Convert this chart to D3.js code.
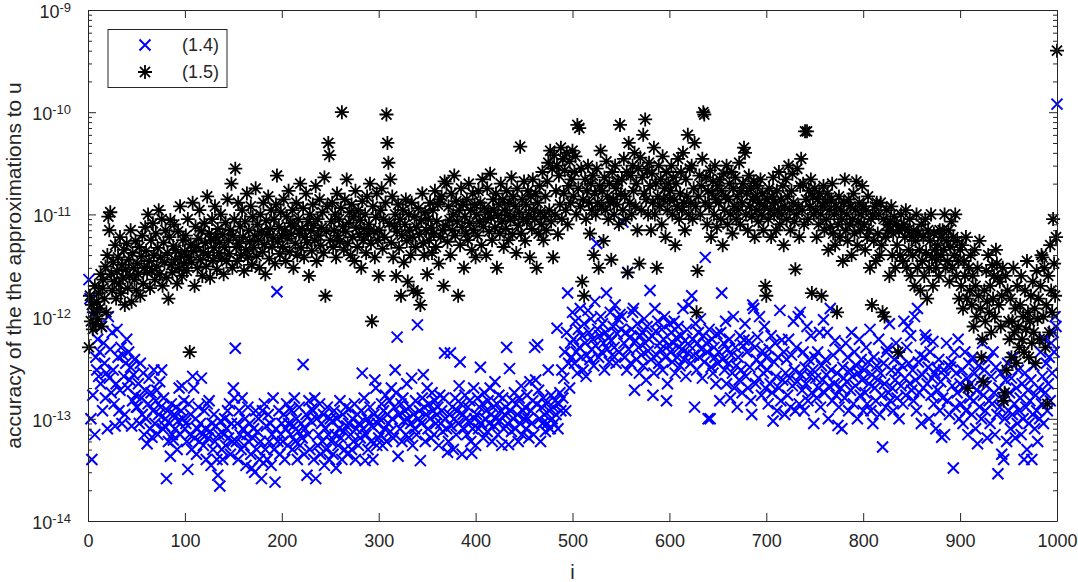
<!DOCTYPE html>
<html><head><meta charset="utf-8">
<script src="https://cdn.jsdelivr.net/npm/d3@7"></script>
<style>body{margin:0;background:#fff} svg{display:block} text{font-family:"Liberation Sans",Arial,Helvetica,sans-serif;fill:#262626}</style>
</head><body><svg id="chart" width="1078" height="582"></svg>
<script>
// values are given in units of 1e-14, one entry per i = 1..1000
const UNIT = 1e-14;
const seriesNames = ["(1.4)", "(1.5)"];
const acc14 = [
230,150,10,4,17,100,7,40,30,60,
26,45,22,80,12,55,35,16,28,8,
100,25,48,18,70,30,14,8.5,22,75,
40,12,19,50,9,42,26,11,35,60,
20,45,24,32,8.5,15,27,38,17,13,
13,22,9,35,16,11,28,7,19,10,
5.7,14,25,8,18,6.6,12,30,9,15,
19,7,11,23,13,30,8,16,8.5,10,
2.6,12,6,9,4.3,14,7,6.2,11,8,
13,5,9.5,20,7,12,21,10,15,8,
9,6,3.2,14,7,11,5,26,20,6.5,
10,4.5,8,13,6,9,25,7,5.5,12,
8,4,14,6.5,15,7.5,3.5,9,5,11,
6,8.5,4,2.8,7,2.2,9.5,5,4,7,
10,5.5,8,12,6.5,14,4.5,9,6,20,
16,49,6,9,4,12,7,5,16,8,
5.5,10,3.5,7,13,6,9,4.5,3.3,6.5,
8,3,12,5,7.5,10,4,6,2.6,12,
3.7,14,5,8.5,4,11,6,9,3.5,7,
16,5,2.4,8,175,6,12,4.5,7,9,
6,11,4,8,14,5.5,9,12.5,7,12,
5,8.5,16,6,10,4,7.5,13,5.5,9,
6.5,34,4.5,8,11,2.8,7,15,5,9.5,
12.5,12,4,16,2.6,10,5.5,7,14,4.5,
9,6,11,3.5,8,5,13,7,4,10,
6,9.5,4.5,12,7,3.3,10,5.5,8,15,
6.5,4,11,7.5,5,13,8.5,4.5,9,12.5,
7,5,10,6,14,4,8,11,5.5,9,
6.5,12,28,8,16,3.9,7,10,5,9,
13,6,8.5,4,11,24,20,5.5,9,6.5,
10,7,14,5.5,12,8,17,6,11,9,
15,7.5,20,10,6.5,13,30,18,63,4.3,
11,8,14,6,16,9.5,12,7,22,10,
6.5,13,9,25,5.5,11,8,15,7,83,
10,12,3.9,9,16,27,13,6,11,20,
8,14,10,6.5,18,12,7,15,9,11,
13,5.5,17,9,12,7.5,16,44,10,8,
4.7,6,11,44,8.5,13,5,10,16,7,
12,9,21,36,14,4.5,11,8,17,10,
7,13,9.5,15,6,4.6,8,20,10,5.5,
11,16,8,13,32,9,14,6.5,18,10,
12,7.5,15,9,20,11,6,13,8.5,23,
10,14,7,17,9.5,12,5.5,16,8,11,
13,50,9,5.6,31,12,7.5,15,10,18,
8,14,11,6,16,9,21,7,12,10,
13,8,17,10,6.5,23,12,9,15,7,
50,24,14,53,19,10,6,13,9,16,
11,7.5,14,9,30,12,8,17,10,13,
9,15,11,77,8,14,18,12,30,16,
25,45,12,70,170,35,20,55,40,110,
60,35,90,45,28,75,50,120,40,65,
30,85,55,26,42,115,70,38,95,48,
60,33,140,52,520,75,40,65,100,45,
85,55,30,70,170,48,62,36,110,58,
42,80,50,130,35,68,95,45,105,75,
100,840,55,40,70,30,270,48,62,35,
75,110,120,19,58,38,85,50,28,65,
42,70,33,95,55,24,80,46,60,180,
38,65,17,28,120,72,42,90,35,55,
48,75,30,60,100,40,15,22,52,85,
45,70,36,55,90,28,62,40,80,50,
33,65,48,120,38,58,26,75,44,130,
52,35,160,60,42,13,85,30,55,70,
40,95,48,25,65,36,380,55,45,10,
75,10,32,60,28,50,40,22,68,35,
45,15,70,170,38,55,30,90,22,48,
35,60,16,42,28,100,20,50,33,13,
40,24,65,30,18,52,59,85,26,45,
20,58,32,15,11,130,120,50,22,38,
63,25,100,34,17,46,28,80,20,40,
30,14,48,22,65,18,9.5,36,55,26,
12,40,20,115,15,59,24,45,11,28,
38,17,60,25,13,42,21,90,30,12,
50,23,100,14,110,27,19,45,12,32,
22,80,15,38,26,65,18,30,9,40,
25,16,45,20,70,13,33,24,93,18,
38,27,70,10,21,120,30,15,42,22,
58,17,28,8.6,13,48,20,8,32,25,
16,55,23,40,12,30,19,70,26,14,
45,21,33,10,28,60,17,38,24,12,
30,18,50,14,36,22,75,12,27,9,
40,20,15,33,24,60,11,28,17,5.3,
35,22,13,45,49,18,85,15,30,20,
12,38,24,55,16,29,10,42,21,33,
14,90,25,17,50,80,35,22,65,19,
30,15,100,24,12,120,36,18,42,9,
27,20,40,66,60,22,32,10,45,17,
25,57,14,28,8,31,19,38,12,23,
6.6,16,30,7,26,55,15,33,11,32,
36,21,3.3,45,13,28,18,60,10,22,
14,30,9,20,45,12,25,7,35,16,
22,11,40,15,28,8,19,5.7,33,13,
24,10,55,17,30,12,21,6.5,38,15,
9,26,14,45,18,7,32,11,2.9,20,
13,28,4.5,16,4,10,24,6,35,12,
18,8,25,11,40,14,6.5,20,9,30,
12,16,7,22,10,4,28,13,5,19,
9,15,24,4,11,33,8,17,12,6,
20,10,45,14,26,9,60,18,35,12,
22,40,15,55,28,70,45,100,80,12000
];
const acc15 = [
50,160,90,130,75,110,200,85,140,95,
170,120,260,80,190,230,150,310,110,400,
950,700,1050,260,180,340,220,500,150,280,
380,210,600,170,320,240,450,130,290,520,
190,360,250,700,140,420,300,230,550,180,
330,260,480,160,390,620,210,300,750,440,
270,1000,350,190,560,280,820,400,230,650,
310,470,1100,260,380,900,200,530,340,700,
240,420,150,600,880,320,270,490,800,360,
450,210,680,300,1200,390,250,560,330,430,
620,280,900,380,45,510,340,1300,440,200,
760,480,300,580,1100,360,690,250,430,820,
520,310,1500,400,650,240,560,900,350,470,
1200,600,290,720,420,530,1000,370,640,260,
480,830,350,1400,560,410,700,2000,300,620,
900,2800,480,350,1300,520,760,400,1100,600,
280,850,450,1600,380,700,540,1200,320,950,
470,620,1800,390,800,560,300,1000,680,430,
1300,510,260,870,640,1500,370,720,1100,480,
590,900,330,1250,2400,540,760,410,1050,620,
480,1400,700,350,950,580,1700,430,820,640,
1100,300,760,520,1300,400,900,650,2000,470,
720,1150,380,600,1600,530,850,250,1000,690,
440,1250,780,560,1900,350,900,620,1400,500,
740,1050,420,2300,160,680,1200,5000,3800,560,
850,1300,480,700,1000,380,1600,620,900,540,
1150,10000,760,450,1400,680,2200,520,830,1050,
400,1250,600,950,350,1700,740,480,1100,640,
880,300,1350,560,720,1000,420,1500,650,800,
2000,520,90,1200,680,380,940,1600,560,250,
700,1100,1800,460,900,600,1300,9500,5000,3200,
820,2200,530,1500,380,760,1000,250,680,1250,
470,900,160,620,1100,340,800,1400,550,220,
1000,700,400,1300,600,180,950,480,750,170,
1150,640,130,880,1600,520,400,1050,700,260,
900,560,1300,740,420,1100,650,1700,480,860,
1250,330,1400,600,1500,700,200,2100,780,2000,
540,1200,880,400,1600,700,1000,2400,620,1350,
850,160,1100,500,1800,750,1250,300,950,650,
1400,560,2000,820,1100,450,1600,700,1250,380,
1000,620,1700,850,1300,500,2200,760,1150,900,
400,1800,1050,680,2500,920,560,1400,1100,750,
1600,300,980,1250,650,2000,850,1400,480,1100,
720,1700,1000,560,1300,880,2300,640,1500,950,
1200,420,1800,780,1050,4600,650,1400,900,2100,
550,1250,850,1700,1000,380,1500,720,2200,1100,
900,1600,300,1300,650,1900,1050,800,2600,560,
950,1500,700,2100,3200,1100,4200,850,2800,380,
3800,1000,1700,3000,640,2400,1250,4500,900,3500,
1600,2700,1100,4000,800,1900,3300,1300,2200,4200,
1500,2600,3700,1000,7500,1800,7000,1200,2800,220,
1400,160,2200,900,1700,3000,1300,650,2000,1100,
2400,400,1600,1000,2800,1300,300,1900,4200,1200,
1700,550,2300,1100,3300,1500,900,2000,1300,360,
2600,1400,1000,3000,1800,1250,2100,800,7500,1600,
2200,1100,3500,1500,900,2600,270,5000,1300,2400,
1000,3000,1700,4000,1200,2000,700,2800,330,3600,
1100,2300,6000,1600,8500,1400,2700,1000,3200,1900,
700,2500,1300,4500,1000,2000,300,1500,3000,1200,
2200,800,3700,1400,1800,600,2600,1100,2000,1400,
1700,3000,1000,2300,1400,500,2000,1200,3500,900,
1600,2600,1100,4000,1300,700,2200,1500,6000,1000,
2800,1300,3000,900,1800,5000,1200,110,280,1500,
2400,1000,1900,3500,10000,9500,1300,2300,800,1700,
1200,2700,600,1600,2100,1000,3000,1400,750,1900,
1300,2200,900,1700,500,2500,1100,1500,3000,800,
1400,2000,1000,2600,650,1800,1200,2300,900,1500,
1100,3200,800,1700,1300,2000,4500,4000,1000,1600,
700,2400,1200,1800,950,1400,2100,600,1500,1100,
1900,850,1300,2200,1000,1600,700,1200,200,160,
1400,900,1800,1100,600,1500,2300,1000,1300,700,
1700,1100,2600,800,1400,1000,1900,500,1200,2200,
900,1500,3000,1100,700,1700,2500,1300,850,290,
1000,2800,1200,600,1900,3500,1100,2000,800,6500,
1400,6500,900,1700,1200,2200,170,1500,1000,1800,
1100,600,1400,800,1600,1000,160,1200,1900,700,
1300,900,1600,450,1100,750,1400,2000,650,1000,
500,1200,110,800,1500,600,1100,900,350,1300,
2200,700,1000,550,1400,800,1200,400,900,1600,
650,1100,2100,500,850,1300,700,1000,1900,1200,
800,450,1100,600,1500,700,300,900,130,1000,
550,1200,350,1300,650,1000,400,1300,500,110,
900,100,600,1100,800,700,250,850,1200,400,
650,950,300,800,500,45,700,400,1000,750,
350,800,600,1100,300,700,450,900,250,600,
400,700,200,550,1000,300,650,450,180,800,
350,600,250,900,420,150,700,300,550,1000,
380,200,650,450,300,360,500,250,700,400,
600,700,450,1000,300,550,350,700,220,480,
850,300,600,400,1000,250,550,350,150,450,
200,500,120,350,250,600,150,20,300,180,
400,130,250,80,450,200,100,300,160,550,
120,40,60,23,180,90,280,140,400,110,
200,70,320,150,250,100,450,330,240,130,
220,80,160,300,15,18,250,30,180,90,
60,150,40,90,300,70,120,35,200,80,
50,130,250,60,100,45,180,75,350,110,
40,90,160,55,220,70,120,35,280,95,
150,60,200,400,380,100,300,50,130,14,
250,70,500,180,110,900,330,160,600,40000
];
const xTicks = [0,100,200,300,400,500,600,700,800,900,1000];
const yTickExp = [-14,-13,-12,-11,-10,-9];
const xLabel = "i";
const yLabel = "accuracy of the the approximations to u";

const W = 1078, H = 582, m = {l:88, t:10, r:21, b:61};
const AX = "#262626";
const FONT = '"Liberation Sans",Arial,Helvetica,sans-serif';
const svg = d3.select("#chart");
const x = d3.scaleLinear().domain([0,1000]).range([m.l, W-m.r]);
const y = d3.scaleLog().domain([1e-14,1e-9]).range([H-m.b, m.t]);

const majorY = yTickExp.map(e => Math.pow(10, e));
const minorY = [];
yTickExp.slice(0,-1).forEach(e => { for (let k=2;k<=9;k++) minorY.push(k*Math.pow(10,e)); });

svg.append("rect").attr("x",m.l).attr("y",m.t).attr("width",W-m.l-m.r).attr("height",H-m.t-m.b).attr("fill","#fff");

// data marks
const pts14 = acc14.map((v,k)=>({i:k+1, v:v*UNIT}));
const pts15 = acc15.map((v,k)=>({i:k+1, v:v*UNIT}));
const s = 5.5, r = 7, d = r*0.72;
const crossPath = `M${-s},${-s}L${s},${s}M${-s},${s}L${s},${-s}`;
const starPath = `M${-r},0L${r},0M0,${-r}L0,${r}M${-d},${-d}L${d},${d}M${-d},${d}L${d},${-d}`;
const plot = svg.append("g");
plot.selectAll("path.c14").data(pts14).join("path").attr("class","c14")
  .attr("d",crossPath).attr("transform",p=>`translate(${x(p.i)},${y(p.v)})`)
  .attr("fill","none").attr("stroke","#0000ff").attr("stroke-width",2);
plot.selectAll("path.c15").data(pts15).join("path").attr("class","c15")
  .attr("d",starPath).attr("transform",p=>`translate(${x(p.i)},${y(p.v)})`)
  .attr("fill","none").attr("stroke","#000").attr("stroke-width",1.8);

// axes
function styleAxis(g){ g.selectAll("path.domain").attr("stroke",AX); g.selectAll(".tick line").attr("stroke",AX); }
svg.append("g").attr("transform",`translate(0,${H-m.b})`)
  .call(d3.axisBottom(x).tickValues(xTicks).tickSize(-8).tickPadding(13).tickSizeOuter(0).tickFormat(d3.format("d")))
  .call(styleAxis)
  .call(g=>g.selectAll("text").attr("font-size",18).attr("fill",AX).style("font-family",FONT));
svg.append("g").attr("transform",`translate(0,${m.t})`)
  .call(d3.axisTop(x).tickValues(xTicks).tickSize(-8).tickSizeOuter(0).tickFormat(""))
  .call(styleAxis);
const yl = svg.append("g").attr("transform",`translate(${m.l},0)`)
  .call(d3.axisLeft(y).tickValues(majorY).tickSize(-8).tickSizeOuter(0).tickFormat(""))
  .call(styleAxis);
svg.append("g").attr("transform",`translate(${m.l},0)`)
  .call(d3.axisLeft(y).tickValues(minorY).tickSize(-4).tickSizeOuter(0).tickFormat(""))
  .call(styleAxis).call(g=>g.select("path.domain").remove());
svg.append("g").attr("transform",`translate(${W-m.r},0)`)
  .call(d3.axisRight(y).tickValues(majorY).tickSize(-8).tickSizeOuter(0).tickFormat(""))
  .call(styleAxis);
svg.append("g").attr("transform",`translate(${W-m.r},0)`)
  .call(d3.axisRight(y).tickValues(minorY).tickSize(-4).tickSizeOuter(0).tickFormat(""))
  .call(styleAxis).call(g=>g.select("path.domain").remove());

// y tick labels 10^e
yl.selectAll(".tick").each(function(dv){
  const e = Math.round(Math.log10(dv));
  const t = d3.select(this).select("text").text(null).attr("x",-17).attr("dy","0.42em")
    .attr("text-anchor","end").attr("font-size",18).attr("fill",AX).style("font-family",FONT);
  t.append("tspan").text("10");
  t.append("tspan").attr("dy","-0.5em").attr("font-size",13).text(String(e));
});

// axis labels
svg.append("text").attr("x",(m.l+W-m.r)/2).attr("y",579).attr("text-anchor","middle")
  .attr("font-size",20).text(xLabel);
svg.append("text").attr("transform",`translate(21,${(m.t+H-m.b)/2}) rotate(-90)`)
  .attr("text-anchor","middle").attr("font-size",21).text(yLabel);

// legend
const lg = svg.append("g");
lg.append("rect").attr("x",108).attr("y",29.5).attr("width",119).attr("height",58)
  .attr("fill","#fff").attr("stroke",AX).attr("stroke-width",1);
const legendItems = [{name:seriesNames[0], path:crossPath, color:"#0000ff", w:2},{name:seriesNames[1], path:starPath, color:"#000", w:1.8}];
legendItems.forEach((it,k)=>{
  const yy = 45 + k*27;
  lg.append("path").attr("d",it.path).attr("transform",`translate(145,${yy})`)
    .attr("fill","none").attr("stroke",it.color).attr("stroke-width",it.w);
  lg.append("text").attr("x",182).attr("y",yy).attr("dy","0.36em").attr("font-size",18).text(it.name);
});
</script></body></html>
